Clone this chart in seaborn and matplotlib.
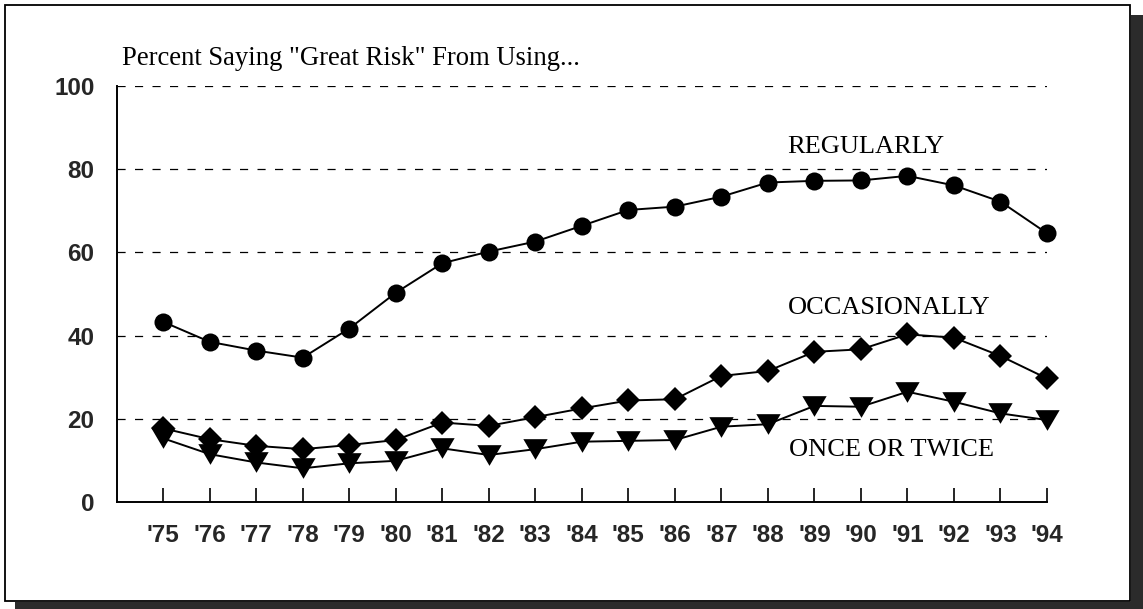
import numpy as np
import pandas as pd
import matplotlib
matplotlib.use("Agg")
import matplotlib.pyplot as plt
import matplotlib.patches as mpatches
import seaborn as sns

years = list(range(1975, 1995))
year_labels = ["'75", "'76", "'77", "'78", "'79", "'80", "'81", "'82", "'83", "'84",
               "'85", "'86", "'87", "'88", "'89", "'90", "'91", "'92", "'93", "'94"]
regularly = [43.3, 38.5, 36.4, 34.7, 41.7, 50.3, 57.4, 60.2, 62.6, 66.4,
             70.2, 71.0, 73.4, 76.8, 77.2, 77.3, 78.4, 76.1, 72.2, 64.6]
occasionally = [17.7, 15.1, 13.5, 12.7, 13.7, 14.9, 19.1, 18.3, 20.4, 22.5,
                24.4, 24.7, 30.3, 31.5, 36.1, 36.7, 40.3, 39.5, 35.1, 29.7]
once_twice = [15.3, 11.5, 9.5, 8.1, 9.3, 9.9, 12.9, 11.3, 12.7, 14.5,
              14.7, 14.9, 18.1, 18.7, 23.1, 22.9, 26.5, 24.1, 21.3, 19.7]
y_ticks = [0, 20, 40, 60, 80, 100]
title_text = 'Percent Saying "Great Risk" From Using...'
series_labels = ["REGULARLY", "OCCASIONALLY", "ONCE OR TWICE"]

sns.set_theme(style="white")
plt.rcParams['font.family'] = ['Liberation Sans', 'DejaVu Sans']

W, H = 1143, 609
fig = plt.figure(figsize=(W / 100, H / 100), dpi=100)
fig.patch.set_facecolor("white")

# outer frame with shadow
fig.patches.append(mpatches.Rectangle((1131 / W, 0), 12 / W, (H - 15) / H,
                                      transform=fig.transFigure, facecolor="#2b2b2b",
                                      edgecolor="none", zorder=-2))
fig.patches.append(mpatches.Rectangle((15 / W, 0), (W - 15) / W, 7 / H,
                                      transform=fig.transFigure, facecolor="#2b2b2b",
                                      edgecolor="none", zorder=-2))
fig.patches.append(mpatches.Rectangle((5 / W, (H - 601) / H), 1125 / W, 596 / H,
                                      transform=fig.transFigure, facecolor="white",
                                      edgecolor="black", linewidth=1.3, zorder=-1))

left, right = 116.7 / W, 1047 / W
bottom, top = 1 - 502 / H, 1 - 86 / H
ax = fig.add_axes([left, bottom, right - left, top - bottom])
ax.set_facecolor("none")

df = pd.DataFrame({"year": years, "reg": regularly, "occ": occasionally, "once": once_twice})

tri = [(-1, 0.85), (1, 0.85), (0, -0.85)]
sns.lineplot(data=df, x="year", y="once", ax=ax, color="black", linewidth=1.4,
             marker=tri, markersize=17.5, markeredgewidth=0, markerfacecolor="black",
             zorder=3, clip_on=False)
sns.lineplot(data=df, x="year", y="occ", ax=ax, color="black", linewidth=1.4,
             marker="D", markersize=12, markeredgewidth=0, markerfacecolor="black",
             zorder=4, clip_on=False)
sns.lineplot(data=df, x="year", y="reg", ax=ax, color="black", linewidth=1.4,
             marker="o", markersize=13, markeredgewidth=0, markerfacecolor="black",
             zorder=4, clip_on=False)

ax.set_xlim(1974, 1994)
ax.set_ylim(0, 100)
ax.set_xlabel("")
ax.set_ylabel("")

ax.set_yticks(y_ticks)
ax.set_yticklabels([str(v) for v in y_ticks], fontsize=17.5, fontweight="bold")
ax.set_xticks(years)
ax.set_xticklabels(year_labels, fontsize=17.5, fontweight="bold")

ax.tick_params(axis="x", direction="in", length=10, width=1.2, color="black", pad=16,
               bottom=True)
ax.tick_params(axis="y", length=0, pad=16, left=False)

for yv in y_ticks[1:]:
    ax.axhline(yv, color="black", linewidth=0.9, linestyle=(0, (6.5, 7.5)), zorder=1)

sns.despine(ax=ax, top=True, right=True)
for s in ["left", "bottom"]:
    ax.spines[s].set_color("black")
    ax.spines[s].set_linewidth(1.4)

serif = ['Liberation Serif', 'DejaVu Serif']
fig.text(122 / W, 1 - 65 / H, title_text, family=serif, fontsize=19.2, ha="left",
         va="baseline", color="black")
ax.text(1990.1, 85.4, series_labels[0], family=serif, fontsize=19, ha="center",
        va="center", color="black")
ax.text(1990.6, 46.6, series_labels[1], family=serif, fontsize=19, ha="center",
        va="center", color="black")
ax.text(1990.65, 12.5, series_labels[2], family=serif, fontsize=19, ha="center",
        va="center", color="black")

fig.savefig("out.png", dpi=100, facecolor="white")
